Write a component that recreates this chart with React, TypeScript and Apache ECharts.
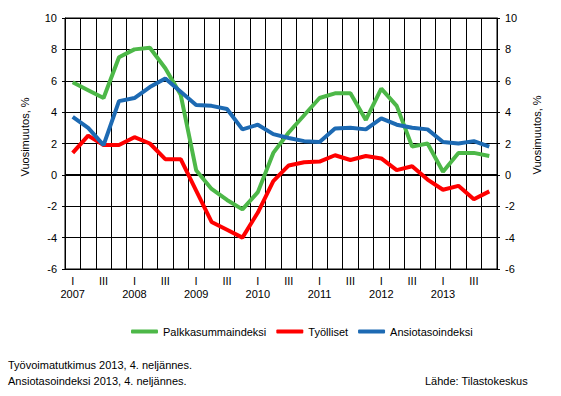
import React, { useEffect, useRef } from "react";
import * as echarts from "echarts";

const years = [2007, 2008, 2009, 2010, 2011, 2012, 2013];
const quarterNames = ["I", "II", "III", "IV"];

const palkkasumma = [5.9, 5.4, 4.9, 7.5, 8.0, 8.1, 6.8, 5.1, 0.3, -0.9, -1.6, -2.2, -1.1, 1.4, 2.7, 3.8, 4.9, 5.2, 5.2, 3.5, 5.5, 4.4, 1.8, 2.0, 0.2, 1.4, 1.4, 1.2];
const tyolliset = [1.4, 2.5, 1.9, 1.9, 2.4, 2.0, 1.0, 1.0, -1.0, -3.0, -3.5, -4.0, -2.4, -0.4, 0.6, 0.8, 0.85, 1.25, 0.95, 1.2, 1.05, 0.3, 0.55, -0.3, -0.95, -0.7, -1.55, -1.05];
const ansiotaso = [3.7, 3.0, 1.9, 4.7, 4.9, 5.6, 6.15, 5.3, 4.45, 4.4, 4.2, 2.9, 3.2, 2.6, 2.35, 2.15, 2.1, 2.95, 3.0, 2.9, 3.6, 3.2, 3.0, 2.9, 2.1, 2.0, 2.15, 1.8];

const seriesNames = ["Palkkasummaindeksi", "Työlliset", "Ansiotasoindeksi"];
const seriesColors = ["#4DB848", "#FF0000", "#1D6AB3"];

const yTitle = "Vuosimuutos, %";
const footer1 = "Työvoimatutkimus 2013, 4. neljännes.";
const footer2 = "Ansiotasoindeksi 2013, 4. neljännes.";
const source = "Lähde: Tilastokeskus";

const categories: string[] = [];
years.forEach((y) => quarterNames.forEach((q) => categories.push(y + "|" + q)));

const FONT = "Liberation Sans, Arial, sans-serif";

export default function App() {
  const ref = useRef<HTMLDivElement>(null);
  useEffect(() => {
    if (!ref.current) return;
    const chart = echarts.init(ref.current, null, { renderer: "svg" });
    const yAxisBase = {
      type: "value",
      min: -6,
      max: 10,
      interval: 2,
      axisLine: { show: true, lineStyle: { color: "#000", width: 1 } },
      axisTick: { show: true, length: 3, lineStyle: { color: "#000" } },
      axisLabel: { color: "#000", fontSize: 11, fontFamily: FONT, margin: 8 },
    };
    const data = [palkkasumma, tyolliset, ansiotaso];
    chart.setOption({
      animation: false,
      backgroundColor: "#fff",
      textStyle: { fontFamily: FONT },
      grid: {
        left: 65,
        right: 64,
        top: 18,
        bottom: 127,
        show: true,
        borderColor: "#000",
        borderWidth: 1,
      },
      legend: {
        left: 126,
        top: 321,
        icon: "roundRect",
        itemWidth: 27,
        itemHeight: 4,
        itemGap: 10,
        textStyle: { color: "#000", fontSize: 11, fontFamily: FONT },
        data: seriesNames,
      },
      xAxis: {
        type: "category",
        data: categories,
        boundaryGap: true,
        axisLine: { show: true, onZero: false, lineStyle: { color: "#000" } },
        axisTick: { show: false },
        splitLine: { show: true, interval: 0, lineStyle: { color: "#000", width: 1 } },
        axisLabel: {
          interval: 0,
          color: "#000",
          fontSize: 11,
          fontFamily: FONT,
          margin: 5,
          lineHeight: 13,
          formatter: (v: string) => {
            const [y, q] = v.split("|");
            if (q === "I") return "I\n" + y;
            if (q === "III") return "III";
            return "";
          },
        },
      },
      yAxis: [
        {
          ...yAxisBase,
          position: "left",
          splitLine: { show: true, lineStyle: { color: "#000", width: 1 } },
        },
        {
          ...yAxisBase,
          position: "right",
          splitLine: { show: false },
        },
      ],
      series: seriesNames.map((name, i) => ({
        name,
        type: "line",
        data: data[i],
        yAxisIndex: 0,
        symbol: "none",
        color: seriesColors[i],
        lineStyle: { width: 4, color: seriesColors[i] },
        z: 3 + i,
        markLine:
          i === 0
            ? {
                silent: true,
                symbol: "none",
                label: { show: false },
                lineStyle: { color: "#000", width: 2, type: "solid" },
                data: [{ yAxis: 0 }],
                z: 1,
              }
            : undefined,
      })),
      graphic: [
        {
          type: "text",
          x: 25,
          y: 137,
          rotation: Math.PI / 2,
          style: {
            text: yTitle,
            fill: "#000",
            fontSize: 11,
            fontFamily: FONT,
            textAlign: "center",
            textVerticalAlign: "middle",
          },
        },
        {
          type: "text",
          x: 537,
          y: 135,
          rotation: Math.PI / 2,
          style: {
            text: yTitle,
            fill: "#000",
            fontSize: 11,
            fontFamily: FONT,
            textAlign: "center",
            textVerticalAlign: "middle",
          },
        },
        {
          type: "text",
          x: 8,
          y: 365,
          style: { text: footer1, fill: "#000", fontSize: 11, fontFamily: FONT, textVerticalAlign: "middle" },
        },
        {
          type: "text",
          x: 8,
          y: 381,
          style: { text: footer2, fill: "#000", fontSize: 11, fontFamily: FONT, textVerticalAlign: "middle" },
        },
        {
          type: "text",
          x: 425,
          y: 381,
          style: { text: source, fill: "#000", fontSize: 11, fontFamily: FONT, textVerticalAlign: "middle" },
        },
      ],
    });
    return () => chart.dispose();
  }, []);
  return (
    <div
      ref={ref}
      style={{ position: "fixed", left: 0, top: 0, width: 561, height: 396, background: "#fff" }}
    />
  );
}
